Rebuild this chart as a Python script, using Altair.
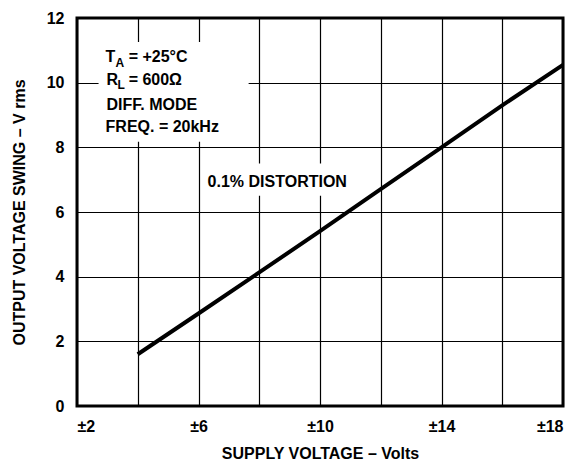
import altair as alt
import pandas as pd

# ---- data ----
supply_volts = [4, 6, 8, 10, 12, 14, 16, 18]
swing_vrms = [1.6, 2.86, 4.13, 5.41, 6.71, 8.0, 9.3, 10.55]

x_grid = [2, 4, 6, 8, 10, 12, 14, 16, 18]
y_grid = [0, 2, 4, 6, 8, 10, 12]

# annotation texts (data coordinates)
note_text = ["T", "= +25°C", "R", "= 600Ω", "DIFF. MODE", "FREQ. = 20kHz", "0.1% DISTORTION"]
note_x = [2.94, 3.70, 2.97, 3.70, 2.97, 2.94, 6.30]
note_y = [10.64, 10.64, 9.93, 9.93, 9.155, 8.475, 6.77]

sub_text = ["A", "L"]
sub_x = [3.27, 3.33]
sub_y = [10.49, 9.80]

# white label backgrounds (data coordinates)
box_x1 = [2.71, 6.17]
box_x2 = [7.65, 11.04]
box_y1 = [8.17, 6.5]
box_y2 = [11.26, 7.5]

FONT = "Liberation Sans"

curve = pd.DataFrame({"supply": supply_volts, "swing": swing_vrms})
notes = pd.DataFrame({"t": note_text, "px": note_x, "py": note_y})
subs = pd.DataFrame({"t": sub_text, "px": sub_x, "py": sub_y})
boxes = pd.DataFrame({"x1": box_x1, "x2": box_x2, "y1": box_y1, "y2": box_y2})

xs = alt.Scale(domain=[2, 18], nice=False, zero=False)
ys = alt.Scale(domain=[0, 12], nice=False, zero=False)

X_AX = alt.Axis(values=x_grid,
                labelExpr="datum.value % 4 == 2 ? '±' + datum.value : ''",
                title="SUPPLY VOLTAGE – Volts",
                labelPadding=12, titleX=243, titleY=47, titleBaseline="middle")
Y_AX = alt.Axis(values=y_grid, title="OUTPUT VOLTAGE SWING – V rms",
                labelPadding=13, titleX=-58, titleY=194, titleAngle=270,
                titleBaseline="middle")

line = alt.Chart(curve).mark_line(color="black", strokeWidth=4, strokeCap="butt").encode(
    x=alt.X("supply:Q", scale=xs, axis=X_AX),
    y=alt.Y("swing:Q", scale=ys, axis=Y_AX),
)

rects = alt.Chart(boxes).mark_rect(color="white").encode(
    x=alt.X("x1:Q", scale=xs, axis=X_AX), x2="x2:Q",
    y=alt.Y("y1:Q", scale=ys, axis=Y_AX), y2="y2:Q",
)

texts = alt.Chart(notes).mark_text(
    align="left", baseline="alphabetic", font=FONT, fontSize=16, fontWeight="bold", color="black"
).encode(
    x=alt.X("px:Q", scale=xs, axis=X_AX),
    y=alt.Y("py:Q", scale=ys, axis=Y_AX),
    text="t:N",
)

subtexts = alt.Chart(subs).mark_text(
    align="left", baseline="alphabetic", font=FONT, fontSize=12, fontWeight="bold", color="black"
).encode(
    x=alt.X("px:Q", scale=xs, axis=X_AX),
    y=alt.Y("py:Q", scale=ys, axis=Y_AX),
    text="t:N",
)

chart = alt.layer(rects, line, texts, subtexts).properties(
    width=486, height=388,
    autosize=alt.AutoSizeParams(type="none"),
    padding={"left": 69, "top": 10, "right": 4, "bottom": 55},
).configure_view(
    stroke="black", strokeWidth=3
).configure_axis(
    grid=True, gridColor="black", gridWidth=1.2, gridOpacity=1,
    domain=False, ticks=False,
    labelFont=FONT, labelFontSize=16, labelFontWeight="bold", labelColor="black",
    titleFont=FONT, titleFontSize=16, titleFontWeight="bold", titleColor="black",
)

chart.save("out.html", embed_options={"renderer": "svg", "actions": False})
